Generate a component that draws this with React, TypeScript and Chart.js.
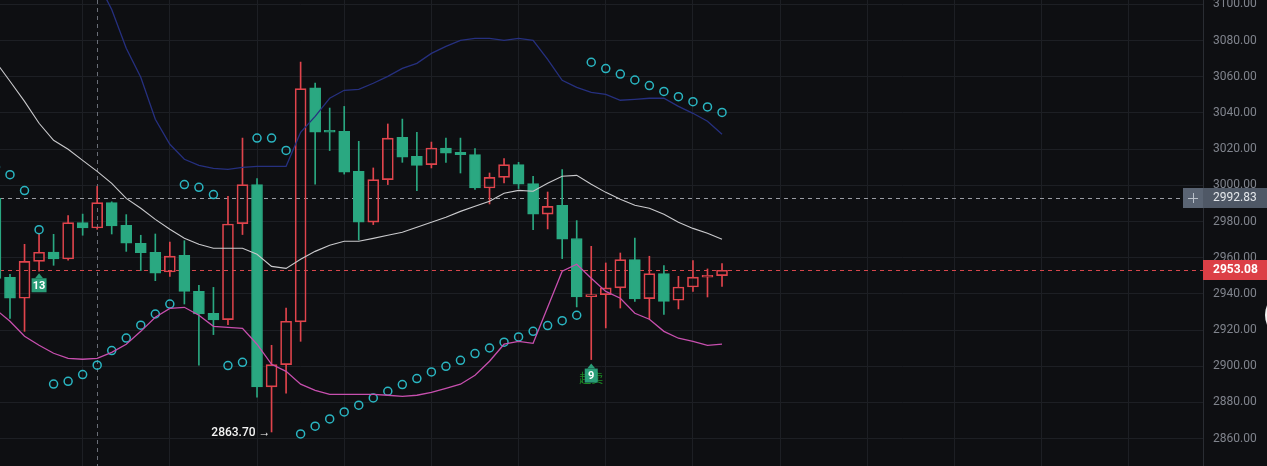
import React, { useEffect, useRef } from 'react';
import { Chart, registerables } from 'chart.js';

Chart.register(...registerables);

// ---- data (candle index starts at -1, partially visible at the left edge) ----
const FIRST_INDEX = -1;

const opens = [2992.8, 2949.2, 2937.6, 2958.0, 2963.1, 2959.3, 2979.4, 2976.4, 2990.4, 2977.9, 2968.0, 2963.0, 2952.1, 2961.3, 2941.4, 2929.3, 2925.8, 2978.8, 3000.4, 2888.6, 2900.9, 2924.5, 3053.8, 3030.4, 3029.8, 3007.7, 2979.7, 3003.1, 3026.5, 3016.0, 3011.4, 3020.6, 3018.2, 3017.0, 2998.5, 3004.4, 3011.4, 3000.9, 2984.1, 2989.0, 2970.6, 2938.5, 2939.6, 2943.3, 2958.9, 2937.4, 2951.2, 2936.5, 2943.8, 2949.3, 2950.1];
const highs = [2995.0, 2950.8, 2967.4, 2972.9, 2972.9, 2983.3, 2984.1, 2999.4, 2990.9, 2983.8, 2972.4, 2973.1, 2968.7, 2969.4, 2944.8, 2943.6, 2993.9, 3026.1, 3003.7, 2911.6, 2932.2, 3068.1, 3056.5, 3042.7, 3043.6, 3024.3, 3009.6, 3033.9, 3036.6, 3029.3, 3023.9, 3026.1, 3026.1, 3020.3, 3006.8, 3014.8, 3012.7, 3005.0, 2996.3, 3008.7, 2980.5, 2966.3, 2957.1, 2962.6, 2970.9, 2960.8, 2955.6, 2949.7, 2958.4, 2953.8, 2956.7];
const lows = [2944.0, 2926.5, 2919.3, 2952.5, 2955.8, 2958.6, 2972.4, 2975.7, 2973.1, 2963.5, 2952.9, 2947.3, 2949.7, 2934.4, 2900.6, 2917.5, 2923.0, 2972.8, 2882.9, 2863.7, 2885.2, 2913.8, 3000.7, 3019.2, 3006.2, 2969.8, 2978.3, 3000.4, 3012.7, 2997.1, 3009.6, 3012.7, 3006.8, 2997.8, 2989.7, 3001.3, 2998.2, 2975.5, 2975.9, 2959.5, 2932.8, 2903.7, 2921.2, 2932.2, 2935.9, 2926.1, 2928.6, 2931.7, 2941.4, 2938.3, 2944.2];
const closes = [2948.6, 2937.6, 2958.0, 2963.0, 2959.3, 2979.4, 2976.4, 2990.4, 2977.5, 2968.0, 2962.8, 2951.5, 2960.9, 2941.4, 2928.9, 2925.6, 2978.6, 3000.4, 2888.6, 2900.9, 2924.9, 3053.4, 3029.4, 3029.4, 3007.3, 2979.7, 3003.1, 3026.1, 3015.5, 3011.0, 3020.6, 3017.8, 3017.0, 2998.5, 3004.4, 3011.4, 3000.7, 2984.1, 2988.4, 2970.3, 2938.3, 2939.6, 2943.3, 2958.9, 2937.2, 2951.2, 2935.9, 2943.8, 2949.3, 2950.3, 2953.08];

const bollUpper = [3168, 3160, 3150, 3142, 3135, 3127, 3120, 3112.7, 3097.2, 3075.7, 3059.7, 3036.5, 3022.7, 3014.4, 3011.0, 3009.4, 3008.8, 3009.9, 3010.5, 3010.5, 3010.5, 3029.3, 3038.1, 3048.1, 3052.5, 3053.0, 3056.4, 3060.2, 3064.6, 3067.4, 3072.9, 3076.8, 3080.1, 3081.2, 3081.2, 3080.1, 3081.2, 3080.1, 3069.6, 3058.0, 3054.1, 3051.4, 3050.3, 3047.0, 3047.5, 3048.1, 3048.1, 3043.6, 3039.8, 3035.4, 3028.2];
const bollMiddle = [3068.5, 3057.5, 3046.4, 3034.3, 3024.9, 3019.9, 3013.8, 3007.7, 3001.1, 2992.8, 2987.3, 2981.2, 2975.7, 2970.7, 2967.4, 2965.2, 2965.2, 2965.2, 2961.9, 2955.2, 2954.1, 2959.1, 2963.5, 2966.9, 2969.1, 2969.1, 2970.7, 2972.4, 2974.1, 2976.8, 2979.6, 2982.3, 2985.6, 2988.4, 2991.2, 2995.6, 2997.2, 2996.7, 3001.1, 3005.0, 3005.5, 3000.6, 2996.1, 2992.3, 2989.0, 2987.3, 2984.0, 2979.6, 2976.2, 2973.5, 2970.2];
const bollLower = [2931.5, 2924.9, 2916.6, 2911.6, 2907.2, 2904.4, 2903.9, 2904.4, 2907.7, 2912.2, 2919.3, 2927.1, 2932.0, 2932.6, 2928.2, 2922.1, 2921.5, 2921.0, 2912.2, 2901.1, 2897.2, 2890.1, 2886.7, 2884.5, 2884.5, 2884.5, 2884.5, 2884.0, 2883.4, 2884.0, 2885.6, 2887.8, 2890.1, 2895.0, 2902.8, 2912.2, 2913.8, 2912.7, 2932.6, 2952.5, 2956.4, 2948.6, 2941.4, 2937.6, 2929.3, 2926.0, 2919.3, 2915.5, 2913.8, 2911.6, 2912.2];
const sar = [3010.1, 3005.9, 2997.1, 2975.5, 2890.2, 2891.7, 2895.4, 2900.6, 2908.7, 2915.6, 2922.7, 2928.9, 2934.4, 3000.4, 2998.9, 2994.9, 2900.4, 2902.2, 3026.1, 3026.1, 3019.3, 2862.6, 2866.9, 2870.9, 2874.8, 2878.5, 2882.5, 2886.2, 2889.9, 2893.2, 2896.9, 2900.0, 2903.3, 2907.0, 2910.1, 2913.3, 2916.2, 2919.3, 2922.5, 2925.2, 2928.2, 3068.0, 3064.5, 3061.5, 3058.2, 3055.1, 3051.9, 3049.0, 3046.2, 3043.3, 3040.3];

const yTicks = [2860, 2880, 2900, 2920, 2940, 2960, 2980, 3000, 3020, 3040, 3060, 3080, 3100];
const xGridIndices = [5, 11, 17, 23, 29, 35, 41, 47, 53, 59, 65, 71, 77];

const crossPrice = 2992.83;
const lastPrice = 2953.08;
const crosshairIndex = 6;
const lowMarkIndex = 18;
const lowMarkText = '2863.70 →';
const signal13Index = 2;
const signal13Text = '13';
const signal9Index = 40;
const signal9Text = '9';
const signal9Sub = '超卖';

// ---- styles ----
const BG = '#0e0f12';
const GRID = '#1d1f24';
const GREEN = '#2aa881';
const RED = '#e0444c';

export default function App() {
  const ref = useRef<HTMLCanvasElement | null>(null);

  useEffect(() => {
    document.body.style.margin = '0';
    document.body.style.background = BG;
    const canvas = ref.current;
    if (!canvas) return;

    const xs = opens.map((_, k) => k + FIRST_INDEX);
    const up = opens.map((o, k) => closes[k] >= o);
    const colorOf = (k: number) => (up[k] ? RED : GREEN);

    const bodies = xs.map((x, k) => ({ x, y: [opens[k], closes[k]] }));
    const upperWicks = xs.map((x, k) => ({ x, y: [Math.max(opens[k], closes[k]), highs[k]] }));
    const lowerWicks = xs.map((x, k) => ({ x, y: [lows[k], Math.min(opens[k], closes[k])] }));
    const line = (arr: number[]) => xs.map((x, k) => ({ x, y: arr[k] }));

    const zeroPad = (s: any) => {
      s.paddingTop = 0;
      s.paddingBottom = 0;
      s.paddingLeft = 0;
      s.paddingRight = 0;
    };

    const overlay = {
      id: 'overlay',
      beforeDatasetsDraw(chart: any) {
        const { ctx, chartArea } = chart;
        const x = chart.scales.x;
        const y = chart.scales.y;
        ctx.save();
        ctx.lineWidth = 1;
        ctx.setLineDash([4, 4]);
        const cx = Math.round(x.getPixelForValue(crosshairIndex)) + 0.5;
        ctx.strokeStyle = '#6a6e77';
        ctx.beginPath();
        ctx.moveTo(cx, 0);
        ctx.lineTo(cx, chartArea.bottom);
        ctx.stroke();
        const cy = Math.round(y.getPixelForValue(crossPrice)) + 0.5;
        ctx.strokeStyle = '#9a9ca3';
        ctx.beginPath();
        ctx.moveTo(chartArea.left, cy);
        ctx.lineTo(chartArea.right - 20, cy);
        ctx.stroke();
        const ly = Math.round(y.getPixelForValue(lastPrice)) + 0.5;
        ctx.strokeStyle = '#d8474c';
        ctx.beginPath();
        ctx.moveTo(chartArea.left, ly);
        ctx.lineTo(chartArea.right, ly);
        ctx.stroke();
        ctx.restore();
      },
      afterDraw(chart: any) {
        const { ctx, chartArea } = chart;
        const x = chart.scales.x;
        const y = chart.scales.y;
        const W = chart.width;
        ctx.save();
        ctx.setLineDash([]);
        ctx.textBaseline = 'middle';

        const cy = Math.round(y.getPixelForValue(crossPrice));
        ctx.fillStyle = '#5a6473';
        ctx.fillRect(chartArea.right - 20, cy - 10, 20, 20);
        ctx.strokeStyle = '#b9c0ca';
        ctx.lineWidth = 1;
        ctx.beginPath();
        ctx.moveTo(chartArea.right - 15, cy + 0.5);
        ctx.lineTo(chartArea.right - 5, cy + 0.5);
        ctx.moveTo(chartArea.right - 10 + 0.5, cy - 5);
        ctx.lineTo(chartArea.right - 10 + 0.5, cy + 5);
        ctx.stroke();
        ctx.fillStyle = '#4f5866';
        ctx.fillRect(chartArea.right, cy - 10, W - chartArea.right, 20);
        ctx.fillStyle = '#e4e7eb';
        ctx.font = '12px Roboto';
        ctx.textAlign = 'left';
        ctx.fillText(crossPrice.toFixed(2), chartArea.right + 10, cy);

        const ly = Math.round(y.getPixelForValue(lastPrice));
        ctx.fillStyle = '#dc3f46';
        ctx.fillRect(chartArea.right, ly - 10, W - chartArea.right, 20);
        ctx.fillStyle = '#ffffff';
        ctx.font = 'bold 12px Roboto';
        ctx.fillText(lastPrice.toFixed(2), chartArea.right + 10, ly);

        const lx = x.getPixelForValue(lowMarkIndex);
        const lyy = y.getPixelForValue(lows[lowMarkIndex - FIRST_INDEX]);
        ctx.font = '500 12px Roboto';
        ctx.fillStyle = '#f4f4f4';
        ctx.textAlign = 'right';
        ctx.fillText(lowMarkText, lx - 1, lyy + 1);

        const drawTag = (idx: number, text: string, gap: number) => {
          const tx = x.getPixelForValue(idx);
          const ty = y.getPixelForValue(lows[idx - FIRST_INDEX]) + gap;
          ctx.fillStyle = '#2a9d78';
          ctx.beginPath();
          ctx.moveTo(tx, ty - 5);
          ctx.lineTo(tx + 4, ty);
          ctx.lineTo(tx - 4, ty);
          ctx.closePath();
          ctx.fill();
          const w = text.length > 1 ? 15 : 13;
          ctx.fillRect(tx - w / 2, ty, w, 14);
          ctx.fillStyle = '#ffffff';
          ctx.font = 'bold 11px Roboto';
          ctx.textAlign = 'center';
          ctx.fillText(text, tx, ty + 7.5);
        };
        drawTag(signal13Index, signal13Text, 7);

        const nx = x.getPixelForValue(signal9Index);
        const ny = y.getPixelForValue(lows[signal9Index - FIRST_INDEX]) + 9;
        ctx.font = '12px "Noto Sans CJK SC"';
        ctx.textAlign = 'center';
        ctx.fillStyle = 'rgba(30,160,40,0.85)';
        ctx.fillText(signal9Sub, nx, ny + 10);
        drawTag(signal9Index, signal9Text, 9);

        ctx.fillStyle = '#f2f2f2';
        ctx.beginPath();
        ctx.arc(W + 23, 315, 25, 0, Math.PI * 2);
        ctx.fill();
        ctx.restore();
      },
    };

    const chart = new Chart(canvas, {
      type: 'bar',
      data: {
        datasets: [
          { type: 'line', data: line(bollUpper), borderColor: '#26307f', borderWidth: 1.3, pointRadius: 0, order: 0 },
          { type: 'line', data: line(bollMiddle), borderColor: '#c9c9cc', borderWidth: 1.1, pointRadius: 0, order: 0 },
          { type: 'line', data: line(bollLower), borderColor: '#c74fae', borderWidth: 1.3, pointRadius: 0, order: 0 },
          {
            type: 'line',
            data: line(sar),
            showLine: false,
            pointRadius: 4,
            pointBorderWidth: 1.5,
            pointBackgroundColor: 'rgba(0,0,0,0)',
            pointBorderColor: '#2ab6c2',
            order: 0,
          },
          {
            type: 'bar',
            data: upperWicks as any,
            backgroundColor: xs.map((_, k) => colorOf(k)),
            borderWidth: 0,
            barThickness: 1,
            grouped: false,
            order: 2,
          },
          {
            type: 'bar',
            data: lowerWicks as any,
            backgroundColor: xs.map((_, k) => colorOf(k)),
            borderWidth: 0,
            barThickness: 1,
            grouped: false,
            order: 2,
          },
          {
            type: 'bar',
            data: bodies as any,
            backgroundColor: xs.map((_, k) => (up[k] ? 'rgba(0,0,0,0)' : GREEN)),
            borderColor: xs.map((_, k) => colorOf(k)),
            borderWidth: 1,
            borderSkipped: false,
            barThickness: 11,
            grouped: false,
            order: 1,
          },
        ] as any,
      },
      options: {
        responsive: false,
        animation: false,
        devicePixelRatio: 1,
        layout: { padding: 0, autoPadding: false },
        plugins: { legend: { display: false }, tooltip: { enabled: false } },
        scales: {
          x: {
            type: 'linear',
            min: -0.688,
            max: 82.1,
            offset: false,
            ticks: { display: false },
            grid: { color: GRID, drawTicks: false, offset: false },
            border: { display: false },
            afterBuildTicks: (s: any) => {
              s.ticks = xGridIndices.map((v) => ({ value: v }));
            },
            afterFit: (s: any) => {
              s.height = 0;
              zeroPad(s);
            },
          },
          y: {
            type: 'linear',
            position: 'right',
            min: 2844.9,
            max: 3102.4,
            ticks: {
              color: '#80848d',
              font: { family: 'Roboto', size: 12 },
              padding: 10,
              callback: (v: any) => Number(v).toFixed(2),
            },
            grid: { color: GRID, drawTicks: false },
            border: { display: true, color: '#2a2d33' },
            afterBuildTicks: (s: any) => {
              s.ticks = yTicks.map((v) => ({ value: v }));
            },
            afterFit: (s: any) => {
              s.width = 64;
              zeroPad(s);
            },
          },
        },
      } as any,
      plugins: [overlay],
    });

    return () => chart.destroy();
  }, []);

  return (
    <div style={{ width: 1267, height: 466, background: BG, overflow: 'hidden' }}>
      <canvas ref={ref} width={1267} height={466} style={{ display: 'block' }} />
    </div>
  );
}
